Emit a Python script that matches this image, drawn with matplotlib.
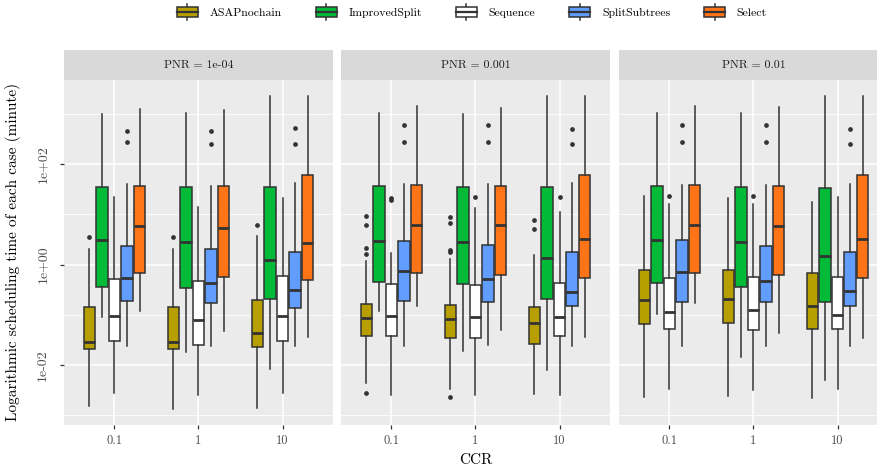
import numpy as np
import matplotlib
matplotlib.use('Agg')
import matplotlib.pyplot as plt
from matplotlib.patches import Rectangle, Patch
from matplotlib.lines import Line2D
from matplotlib.legend_handler import HandlerBase
from matplotlib.ticker import FixedLocator, NullFormatter

plt.rcParams['font.family'] = ['cmr10', 'DejaVu Serif']
plt.rcParams['axes.unicode_minus'] = False

pnr_labels = ['1e-04', '0.001', '0.01']
ccr_labels = ['0.1', '1', '10']
algos = ['ASAPnochain', 'ImprovedSplit', 'Sequence', 'SplitSubtrees', 'Select']
colors = ['#B79F00', '#00BA38', '#FFFFFF', '#619CFF', '#FF7417']

# rows: (PNR, CCR) pairs in order 1e-04/0.1, 1e-04/1, 1e-04/10, 0.001/0.1, ...
# cols: whisker low, Q1, median, Q3, whisker high  (log10 of minutes)
asap = [
    [-2.83, -1.69, -1.54, -0.85, 0.31],
    [-2.89, -1.69, -1.54, -0.85, 0.31],
    [-2.87, -1.64, -1.36, -0.70, 0.56],
    [-2.37, -1.43, -1.07, -0.79, 0.08],
    [-2.49, -1.47, -1.09, -0.81, 0.11],
    [-2.59, -1.58, -1.16, -0.84, 0.20],
    [-2.64, -1.19, -0.71, -0.10, 1.36],
    [-2.63, -1.17, -0.69, -0.10, 1.32],
    [-2.67, -1.29, -0.82, -0.16, 1.24],
]
improved = [
    [-1.05, -0.45, 0.49, 1.55, 3.00],
    [-1.75, -0.47, 0.45, 1.55, 3.03],
    [-2.09, -0.69, 0.10, 1.55, 3.37],
    [-0.92, -0.35, 0.47, 1.56, 3.03],
    [-1.73, -0.39, 0.45, 1.55, 3.01],
    [-2.11, -0.69, 0.14, 1.55, 3.37],
    [-0.99, -0.37, 0.49, 1.56, 3.02],
    [-1.85, -0.45, 0.44, 1.55, 3.03],
    [-2.30, -0.75, 0.17, 1.53, 3.37],
]
sequence = [
    [-2.57, -1.52, -1.03, -0.29, 1.34],
    [-2.61, -1.61, -1.11, -0.33, 1.14],
    [-2.56, -1.53, -1.02, -0.22, 1.32],
    [-2.60, -1.42, -1.03, -0.39, 0.23],
    [-2.60, -1.46, -1.05, -0.40, 1.12],
    [-2.60, -1.42, -1.05, -0.37, 1.05],
    [-2.49, -1.29, -0.94, -0.26, 1.21],
    [-2.50, -1.30, -0.91, -0.25, 1.21],
    [-2.48, -1.29, -1.01, -0.24, 1.35],
]
split = [
    [-1.63, -0.73, -0.27, 0.36, 1.61],
    [-1.63, -0.77, -0.37, 0.31, 1.57],
    [-1.63, -0.87, -0.50, 0.25, 1.63],
    [-1.62, -0.73, -0.12, 0.46, 1.60],
    [-1.60, -0.74, -0.29, 0.39, 1.60],
    [-1.63, -0.83, -0.55, 0.25, 1.63],
    [-1.63, -0.74, -0.15, 0.48, 1.59],
    [-1.63, -0.75, -0.32, 0.36, 1.59],
    [-1.63, -0.83, -0.53, 0.25, 1.61],
]
select = [
    [-0.92, -0.17, 0.76, 1.57, 3.11],
    [-1.33, -0.25, 0.73, 1.56, 3.09],
    [-1.44, -0.31, 0.43, 1.78, 3.37],
    [-0.83, -0.16, 0.79, 1.58, 3.17],
    [-1.31, -0.20, 0.79, 1.56, 3.13],
    [-1.44, -0.27, 0.50, 1.79, 3.37],
    [-0.77, -0.17, 0.79, 1.59, 3.17],
    [-1.37, -0.21, 0.77, 1.56, 3.14],
    [-1.47, -0.27, 0.50, 1.78, 3.37],
]

# outliers (log10 minutes), same row order
asap_out = [[0.55], [0.55], [0.79], [0.97, 0.79, 0.32, 0.22, -2.56],
            [0.95, 0.83, 0.29, 0.25, -2.64], [0.88, 0.71], [], [], []]
improved_out = [[], [], [], [], [], [], [], [], []]
sequence_out = [[], [], [], [1.33, 1.28], [1.34], [1.35], [1.37], [1.37], []]
split_out = [[2.67, 2.45], [2.66, 2.40], [2.73, 2.41], [2.79, 2.45], [2.78, 2.45],
             [2.70, 2.41], [2.79, 2.45], [2.79, 2.45], [2.71, 2.41]]
select_out = [[], [], [], [], [], [], [], [], []]

stats_all = [asap, improved, sequence, split, select]
out_all = [asap_out, improved_out, sequence_out, split_out, select_out]

EDGE = '#333333'
W, H = 878, 472
fig = plt.figure(figsize=(W / 100, H / 100), dpi=100)

# y range from data with ggplot-like 5% expansion
vals = [v for s in stats_all for row in s for v in row] + \
       [v for o in out_all for row in o for v in row]
lo, hi = min(vals), max(vals)
pad = 0.05 * (hi - lo)
ylim = (10 ** (lo - pad), 10 ** (hi + pad))

panel_left = [64, 341, 619]
panel_w, top_px, bot_px = 269, 80, 425
dodge = 0.15
box_w = 0.135

for p in range(3):
    ax = fig.add_axes([panel_left[p] / W, 1 - bot_px / H, panel_w / W, (bot_px - top_px) / H])
    ax.set_facecolor('#EBEBEB')
    for s in ax.spines.values():
        s.set_visible(False)
    ax.set_yscale('log')
    ax.set_ylim(*ylim)
    ax.set_xlim(-0.6, 2.6)
    ax.yaxis.set_major_locator(FixedLocator([1e-2, 1e0, 1e2]))
    ax.yaxis.set_minor_locator(FixedLocator([1e-3, 1e-1, 1e1, 1e3]))
    ax.yaxis.set_minor_formatter(NullFormatter())
    ax.grid(which='major', color='white', lw=1.1)
    ax.grid(which='minor', axis='y', color='white', lw=0.55)
    ax.set_axisbelow(True)
    ax.tick_params(axis='y', which='minor', length=0)

    for k in range(5):
        bstats = []
        for c in range(3):
            row = stats_all[k][p * 3 + c]
            bstats.append(dict(whislo=10 ** row[0], q1=10 ** row[1], med=10 ** row[2],
                               q3=10 ** row[3], whishi=10 ** row[4],
                               fliers=[10 ** v for v in out_all[k][p * 3 + c]]))
        pos = [c + (k - 2) * dodge for c in range(3)]
        ax.bxp(bstats, positions=pos, widths=box_w, patch_artist=True, showcaps=False,
               boxprops=dict(facecolor=colors[k], edgecolor=EDGE, lw=1.1),
               medianprops=dict(color=EDGE, lw=2.0, solid_capstyle='butt'),
               whiskerprops=dict(color=EDGE, lw=1.1),
               flierprops=dict(marker='o', markersize=2.4, markerfacecolor=EDGE,
                               markeredgecolor=EDGE, lw=0))
    ax.set_xticks(range(3))
    ax.set_xticklabels(ccr_labels)
    ax.tick_params(axis='x', length=3, width=0.9, color=EDGE, pad=4,
                   labelsize=9, labelcolor='#4D4D4D')
    if p == 0:
        ax.set_yticks([1e-2, 1e0, 1e2])
        ax.set_yticklabels(['1e-02', '1e+00', '1e+02'], rotation=90, va='center')
        ax.tick_params(axis='y', which='major', length=3, width=0.9, color=EDGE,
                       pad=8, labelsize=10, labelcolor='#4D4D4D')
    else:
        ax.tick_params(axis='y', which='major', length=0, labelleft=False)

    sax = fig.add_axes([panel_left[p] / W, 1 - top_px / H, panel_w / W, 30 / H])
    sax.set_facecolor('#D9D9D9')
    sax.set_xticks([])
    sax.set_yticks([])
    for s in sax.spines.values():
        s.set_visible(False)
    sax.text(0.5, 0.5, 'PNR = ' + pnr_labels[p], ha='center', va='center',
             fontsize=8.5, color='#1A1A1A', transform=sax.transAxes)

fig.text(13 / W, 1 - 252 / H, 'Logarithmic scheduling time of each case (minute)',
         rotation=90, ha='center', va='center', fontsize=11)
fig.text(476 / W, 1 - 460 / H, 'CCR', ha='center', va='center', fontsize=11)


class BoxKey(HandlerBase):
    def create_artists(self, legend, orig_handle, xdescent, ydescent, width, height,
                       fontsize, trans):
        x0, y0 = -xdescent, -ydescent
        bh = height * 0.62
        by = y0 + (height - bh) / 2
        cx = x0 + width / 2
        rect = Rectangle((x0, by), width, bh, facecolor=orig_handle.get_facecolor(),
                         edgecolor=EDGE, lw=1.1, transform=trans)
        med = Line2D([x0, x0 + width], [y0 + height / 2] * 2, color=EDGE, lw=1.6,
                     transform=trans)
        w1 = Line2D([cx, cx], [y0, by], color=EDGE, lw=1.1, transform=trans)
        w2 = Line2D([cx, cx], [by + bh, y0 + height], color=EDGE, lw=1.1, transform=trans)
        return [w1, w2, rect, med]


handles = [Patch(facecolor=c) for c in colors]
fig.legend(handles, algos, loc='center', bbox_to_anchor=(472 / W, 1 - 12 / H), ncol=5,
           frameon=False, fontsize=8.5, handlelength=1.75, handleheight=1.7,
           handletextpad=1.0, columnspacing=2.9, handler_map={Patch: BoxKey()})

fig.savefig('out.png', dpi=100)
